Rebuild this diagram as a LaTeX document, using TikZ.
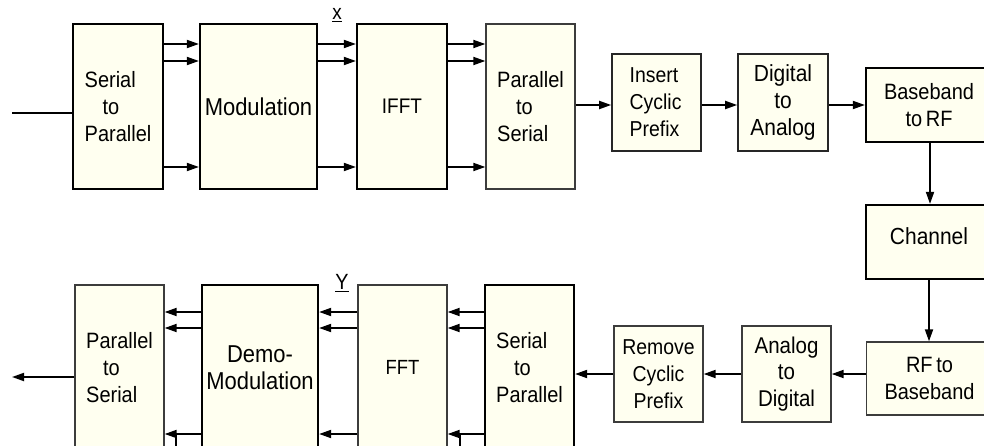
\documentclass[tikz,border=0pt]{standalone}
\usepackage{fontspec}
\setmainfont{Liberation Sans}[FakeStretch=0.9]
\usetikzlibrary{arrows.meta}
\definecolor{boxfill}{RGB}{255,255,240}
\definecolor{thinline}{RGB}{60,60,60}
\tikzset{
  box/.style={draw, fill=boxfill, inner sep=0pt, align=center,
    font=\fontsize{22.2}{27}\selectfont},
  thickbox/.style={box, draw=black, line width=2.2pt},
  thinbox/.style={box, draw=thinline, line width=1.3pt},
  midbox/.style={box, draw=black!85, line width=1.6pt},
  arr/.style={line width=1.8pt, -{Triangle[length=12pt,width=8pt]}},
  plain/.style={line width=1.8pt},
  sig/.style={font=\fontsize{21}{22}\selectfont}
}
\newcommand{\ind}[1]{\hspace*{#1pt}}
\begin{document}
\begin{tikzpicture}[x=1pt,y=-1pt]
\useasboundingbox (0,0) rectangle (984,446);
\clip (0,0) rectangle (984,446);
\fill[white] (0,0) rectangle (984,446);
% ---- top row
\node[thickbox, minimum width=90pt, minimum height=165pt, align=left] (sp1) at (118,106.5) {Serial\\\ind{18}to\\Parallel};
\node[thickbox, minimum width=117pt, minimum height=165pt, font=\fontsize{24.4}{27}\selectfont] (mod) at (258.5,106.5) {Modulation};
\node[thickbox, minimum width=90pt, minimum height=165pt, font=\fontsize{21.1}{27}\selectfont] (ifft) at (402,106.5) {IFFT};
\node[thinbox, minimum width=89pt, minimum height=165pt, align=left] (ps1) at (530.5,106.5) {Parallel\\\ind{19}to\\Serial};
\node[midbox, minimum width=89pt, minimum height=97pt, align=left, font=\fontsize{21.6}{27}\selectfont] (icp) at (656.5,102.5) {Insert\\Cyclic\\Prefix\ind{4}};
\node[midbox, minimum width=90pt, minimum height=97pt, font=\fontsize{23.3}{27}\selectfont] (dac) at (783,102.5) {Digital\\to\\Analog};
\node[thickbox, minimum width=126pt, minimum height=74pt] (bb) at (929,105) {Baseband\\to\,RF};
\node[thickbox, minimum width=126pt, minimum height=74pt, font=\fontsize{23.3}{27}\selectfont] (ch) at (929,242) {\raisebox{12pt}{Channel}};
\node[thinbox, minimum width=126pt, minimum height=73pt] (rfbb) at (929.5,378.5) {RF\,to\\Baseband};
% ---- bottom row
\node[thickbox, minimum width=89pt, minimum height=165pt, align=left] (sp2) at (529.5,367.5) {Serial\\\ind{18}to\\Parallel};
\node[thinbox, minimum width=89pt, minimum height=96pt, font=\fontsize{21.6}{27}\selectfont] (rcp) at (658.5,374) {Remove\\Cyclic\\Prefix};
\node[thinbox, minimum width=89pt, minimum height=96pt, font=\fontsize{22.8}{26.5}\selectfont] (adc) at (786.5,374) {Analog\\to\\Digital};
\node[thinbox, minimum width=89pt, minimum height=165pt, align=left] (ps2) at (119.5,367.5) {Parallel\\\ind{17}to\\Serial};
\node[thickbox, minimum width=116pt, minimum height=165pt, font=\fontsize{24.4}{27}\selectfont] (demo) at (260,367.5) {Demo-\\Modulation};
\node[thinbox, minimum width=89pt, minimum height=165pt, font=\fontsize{20.5}{27}\selectfont] (fft) at (402.5,367.5) {\raisebox{-3pt}{FFT}};
% ---- labels
\node[sig] (xl) at (337,15) {\underline{x}};
\node[sig, font=\fontsize{22}{22}\selectfont] (yl) at (342,283) {\underline{Y}};
% ---- coordinates
\coordinate (in) at (12,113);
\coordinate (out) at (12,377);
\coordinate (t1) at (176,446);
\coordinate (t2) at (460,446);
% ---- top connectors
\draw[plain] (in) -- (in -| sp1.west);
\foreach \yy in {44,61,167}{
  \draw[arr] (sp1.east |- 0,\yy) -- (mod.west |- 0,\yy);
  \draw[arr] (mod.east |- 0,\yy) -- (ifft.west |- 0,\yy);
  \draw[arr] (ifft.east |- 0,\yy) -- (ps1.west |- 0,\yy);
}
\draw[arr] (ps1.east |- 0,105) -- (icp.west |- 0,105);
\draw[arr] (icp.east |- 0,105) -- (dac.west |- 0,105);
\draw[arr] (dac.east |- 0,105) -- (bb.west |- 0,105);
\draw[arr] (bb.south -| 930,0) -- (ch.north -| 930,0);
\draw[arr] (ch.south -| 929,0) -- (rfbb.north -| 929,0);
% ---- bottom connectors
\draw[arr] (rfbb.west |- 0,374) -- (adc.east |- 0,374);
\draw[arr] (adc.west |- 0,374) -- (rcp.east |- 0,374);
\draw[arr] (rcp.west |- 0,374) -- (sp2.east |- 0,374);
\foreach \yy in {312,328,434}{
  \draw[arr] (sp2.west |- 0,\yy) -- (fft.east |- 0,\yy);
  \draw[arr] (fft.west |- 0,\yy) -- (demo.east |- 0,\yy);
  \draw[arr] (demo.west |- 0,\yy) -- (ps2.east |- 0,\yy);
}
\draw[arr] (ps2.west |- out) -- (out);
\draw[plain] (t1 |- 0,435) -- (t1);
\draw[plain] (t2 |- 0,435) -- (t2);
\end{tikzpicture}
\end{document}
